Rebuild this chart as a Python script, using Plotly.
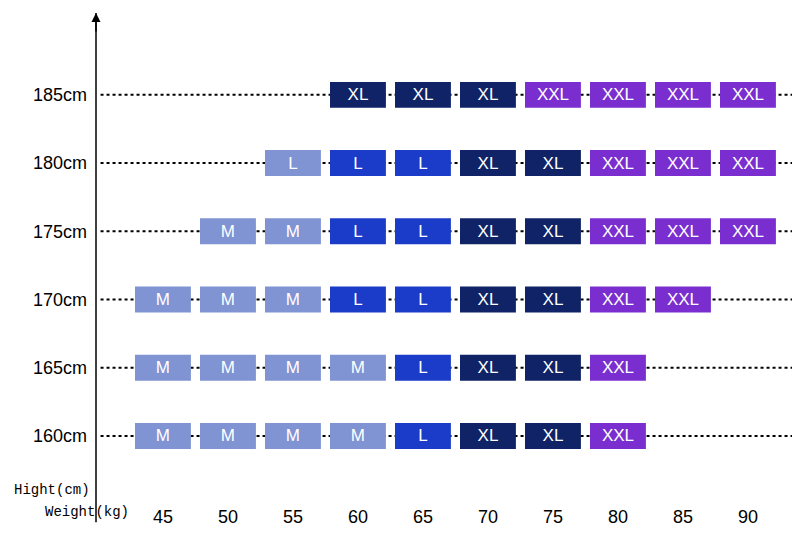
import plotly.graph_objects as go

heights = [185, 180, 175, 170, 165, 160]
weights = [45, 50, 55, 60, 65, 70, 75, 80, 85, 90]
sizes = {
    185: [None, None, None, "XL", "XL", "XL", "XXL", "XXL", "XXL", "XXL"],
    180: [None, None, "L*", "L", "L", "XL", "XL", "XXL", "XXL", "XXL"],
    175: [None, "M", "M", "L", "L", "XL", "XL", "XXL", "XXL", "XXL"],
    170: ["M", "M", "M", "L", "L", "XL", "XL", "XXL", "XXL", None],
    165: ["M", "M", "M", "M", "L", "XL", "XL", "XXL", None, None],
    160: ["M", "M", "M", "M", "L", "XL", "XL", "XXL", None, None],
}
colors = {"M": "#8093d3", "L*": "#8093d3", "L": "#1b3bc9", "XL": "#0f2366", "XXL": "#7a2ecf"}

xs, bases, texts, cols = [], [], [], []
for h in heights:
    for w, s in zip(weights, sizes[h]):
        if s:
            xs.append(w)
            bases.append(h - 0.95)
            texts.append(s.rstrip("*"))
            cols.append(colors[s])

fig = go.Figure(go.Bar(
    x=xs, y=[1.9] * len(xs), base=bases, width=4.3,
    marker=dict(color=cols, line=dict(width=0)),
    text=texts, textposition="inside", insidetextanchor="middle",
    textfont=dict(color="white", size=17, family="Liberation Sans"),
    hoverinfo="skip",
))

shapes = []
for h in heights:
    shapes.append(dict(type="line", xref="x", yref="y", x0=40.2, x1=93.5, y0=h, y1=h,
                       line=dict(color="black", width=2, dash="dot"), layer="below"))
shapes.append(dict(type="line", xref="paper", yref="paper", x0=0, x1=0, y0=-0.05, y1=1,
                   line=dict(color="black", width=1.5)))

fig.update_layout(
    width=800, height=535,
    margin=dict(l=88, r=10, t=5, b=45, autoexpand=False),
    plot_bgcolor="white", paper_bgcolor="white",
    showlegend=False, shapes=shapes,
    font=dict(family="Liberation Sans", size=18, color="black"),
    xaxis=dict(range=[39.85, 93.85], tickvals=weights, ticktext=[str(w) for w in weights],
               showgrid=False, zeroline=False, showline=False, ticks="", ticklabelstandoff=6,
               automargin=False),
    yaxis=dict(range=[155.45, 191.0], tickvals=heights, ticktext=[f"{h}cm" for h in heights],
               showgrid=False, zeroline=False, showline=False, ticks="", ticklabelstandoff=8,
               automargin=False),
    annotations=[
        dict(xref="paper", yref="paper", x=0, y=1.0, ax=0, ay=20, axref="pixel", ayref="pixel",
             showarrow=True, arrowhead=2, arrowsize=1.2, arrowwidth=1.5, arrowcolor="black", text=""),
        dict(xref="paper", yref="paper", x=-0.005, y=-0.005, xanchor="right", showarrow=False,
             text="Hight(cm)", font=dict(family="Liberation Mono", size=14)),
        dict(xref="paper", yref="paper", x=0.05, y=-0.05, xanchor="right", showarrow=False,
             text="Weight(kg)", font=dict(family="Liberation Mono", size=14)),
    ],
)
fig.write_html("out.html")
